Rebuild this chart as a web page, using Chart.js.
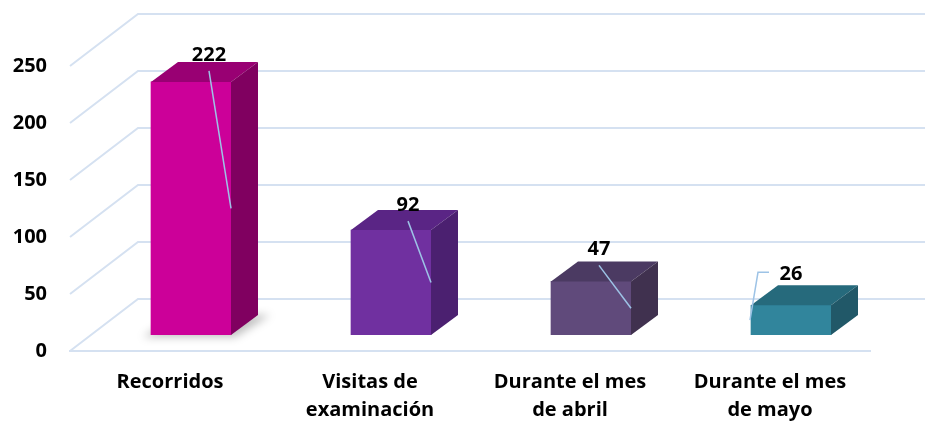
<!DOCTYPE html>
<html>
<head>
<meta charset="utf-8">
<script src="https://cdn.jsdelivr.net/npm/chart.js@4.4.1/dist/chart.umd.min.js"></script>
<style>
  html, body { margin: 0; padding: 0; background: #fff; }
  #wrap { width: 925px; height: 422px; }
</style>
</head>
<body>
<div id="wrap"><canvas id="grafica"></canvas></div>
<script>
const categorias = [
    'Recorridos',
    ['Visitas de', 'examinación'],
    ['Durante el mes', 'de abril'],
    ['Durante el mes', 'de mayo']
];
const valores = [222, 92, 47, 26];
const ticksY = [0, 50, 100, 150, 200, 250];

const coloresFrente = ['#CC0099', '#7030A0', '#604A7B', '#31859C'];
const coloresTapa   = ['#990073', '#5A2585', '#4B3A62', '#266A7C'];
const coloresLado   = ['#800060', '#4B2070', '#40314F', '#215868'];

// desplazamiento de las etiquetas respecto al centro de la cara superior frontal
const offsetEtiquetas = [[18, -27], [17, -25], [8, -32], [0, -31]];

const FONDO = { dx: 68, dy: -52 };     // profundidad de las paredes
const BARRA = { dx: 21, dy: -16 };     // posición de la barra dentro del fondo
const PROF = { dx: 27, dy: -20 };      // profundidad propia de cada barra
const colorGrid = '#D5E1F1';
const colorGuia = '#9DC3E6';
const fuente = '"Open Sans", Lato, sans-serif';

const plugin3D = {
    id: 'plugin3D',
    beforeDatasetsDraw(chart) {
        const ctx = chart.ctx;
        const area = chart.chartArea;
        const y = chart.scales.y;
        ctx.save();
        ctx.strokeStyle = colorGrid;
        ctx.lineWidth = 2;
        ticksY.forEach(v => {
            const py = y.getPixelForValue(v);
            ctx.beginPath();
            ctx.moveTo(area.left, py);
            ctx.lineTo(area.left + FONDO.dx, py + FONDO.dy);
            ctx.lineTo(chart.width, py + FONDO.dy);
            ctx.stroke();
        });
        ctx.restore();

        // sombra suave bajo la primera barra
        const meta = chart.getDatasetMeta(0);
        ctx.save();
        ctx.translate(BARRA.dx, BARRA.dy);
        meta.data.forEach((bar, i) => {
            if (i !== 0) return;
            const l = bar.x - bar.width / 2, r = bar.x + bar.width / 2, b = bar.base;
            ctx.fillStyle = 'rgba(0,0,0,0.25)';
            ctx.filter = 'blur(4px)';
            ctx.beginPath();
            ctx.moveTo(l - 8, b + 2);
            ctx.lineTo(r + 4, b + 2);
            ctx.lineTo(r + PROF.dx + 12, b + PROF.dy);
            ctx.lineTo(l + PROF.dx, b + PROF.dy);
            ctx.closePath();
            ctx.fill();
        });
        ctx.restore();

        ctx.save();
        ctx.translate(BARRA.dx, BARRA.dy);
    },
    afterDatasetsDraw(chart) {
        const ctx = chart.ctx;
        const meta = chart.getDatasetMeta(0);
        meta.data.forEach((bar, i) => {
            const l = bar.x - bar.width / 2, r = bar.x + bar.width / 2;
            const t = bar.y, b = bar.base;
            // tapa
            ctx.fillStyle = coloresTapa[i];
            ctx.beginPath();
            ctx.moveTo(l, t);
            ctx.lineTo(l + PROF.dx, t + PROF.dy);
            ctx.lineTo(r + PROF.dx, t + PROF.dy);
            ctx.lineTo(r, t);
            ctx.closePath();
            ctx.fill();
            // lado
            ctx.fillStyle = coloresLado[i];
            ctx.beginPath();
            ctx.moveTo(r, t);
            ctx.lineTo(r + PROF.dx, t + PROF.dy);
            ctx.lineTo(r + PROF.dx, b + PROF.dy);
            ctx.lineTo(r, b);
            ctx.closePath();
            ctx.fill();
        });

        // líneas guía y etiquetas
        ctx.font = 'bold 20px ' + fuente;
        ctx.textAlign = 'center';
        ctx.textBaseline = 'middle';
        meta.data.forEach((bar, i) => {
            const l = bar.x - bar.width / 2, r = bar.x + bar.width / 2;
            const t = bar.y, b = bar.base;
            const lx = bar.x + offsetEtiquetas[i][0];
            const ly = t + offsetEtiquetas[i][1];
            const midY = (t + b) / 2;
            ctx.strokeStyle = colorGuia;
            ctx.lineWidth = 1.5;
            ctx.beginPath();
            if (i === 3) {
                ctx.moveTo(lx - 22, ly - 2);
                ctx.lineTo(lx - 33, ly - 2);
                ctx.lineTo(l - 1, midY);
            } else {
                ctx.moveTo(lx, ly + 16);
                ctx.lineTo(r, midY);
            }
            ctx.stroke();
            ctx.fillStyle = '#000';
            ctx.fillText(String(valores[i]), lx, ly);
        });
        ctx.restore();
    }
};

new Chart(document.getElementById('grafica'), {
    type: 'bar',
    data: {
        labels: categorias,
        datasets: [{
            data: valores,
            backgroundColor: coloresFrente,
            borderWidth: 0,
            barThickness: 80
        }]
    },
    options: {
        responsive: true,
        maintainAspectRatio: false,
        animation: false,
        layout: { padding: { left: 0, top: 66, right: 55, bottom: 0 } },
        plugins: {
            legend: { display: false },
            tooltip: { enabled: false }
        },
        scales: {
            x: {
                grid: { display: false, drawTicks: false },
                border: { display: true, color: colorGrid, width: 2 },
                ticks: {
                    color: '#000',
                    padding: 17,
                    maxRotation: 0,
                    autoSkip: false,
                    font: { family: fuente, size: 20, weight: 'bold', lineHeight: 1.4 }
                },
                afterFit: s => { s.height = 71; }
            },
            y: {
                min: 0,
                max: 250,
                afterBuildTicks: s => { s.ticks = ticksY.map(v => ({ value: v })); },
                grid: { display: false, drawTicks: false },
                border: { display: false },
                ticks: {
                    color: '#000',
                    padding: 23,
                    font: { family: fuente, size: 20, weight: 'bold' }
                },
                afterFit: s => { s.width = 70; }
            }
        }
    },
    plugins: [plugin3D]
});
</script>
</body>
</html>
